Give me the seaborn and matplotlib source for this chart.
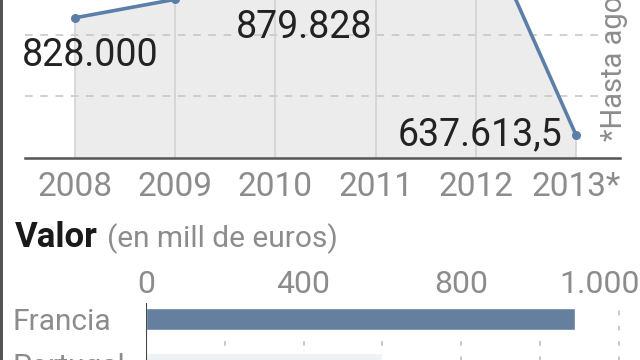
import matplotlib
matplotlib.use("Agg")
import matplotlib.pyplot as plt
import matplotlib.transforms as mtransforms
import seaborn as sns
import numpy as np
import pandas as pd

# data
years = ["2008", "2009", "2010", "2011", "2012", "2013*"]
volumen = [828000, 858000, 879828, 940000, 1004000, 637613.5]
labeled = ["2008", "2010", "2013*"]

paises = ["Francia", "Portugal"]
valor = [1090, 600]
valor_ticks = [0, 400, 800, 1000]

BLUE = "#5b7fa8"
GRAY_TXT = "#8c8c8c"


def es_num(v):
    # 828000 -> 828.000 , 637613.5 -> 637.613,5
    entero = int(v)
    s = f"{entero:,}".replace(",", ".")
    if v != entero:
        s += "," + str(v).split(".")[1]
    return s


sns.set_theme(style="white")
plt.rcParams["font.family"] = ["Liberation Sans Narrow", "DejaVu Sans Condensed",
                               "Roboto", "DejaVu Sans"]

fig = plt.figure(figsize=(6.4, 3.6), dpi=100)
W, H = 640, 360

# ---- top panel: line ----
ax1 = fig.add_axes([25 / W, 1 - 158 / H, (620 - 25) / W, 158 / H])
x = np.arange(len(years))
y0 = 600000
ax1.fill_between(x, volumen, y0, color="#ececec", lw=0, zorder=0)
ax1.vlines(x, y0, volumen, color="#d2d2d2", lw=1.2, zorder=1)
df = pd.DataFrame({"x": x, "v": volumen})
sns.lineplot(data=df, x="x", y="v", color=BLUE, lw=2.6, marker="o",
             markersize=6.5, markeredgewidth=0, ax=ax1, zorder=3)
ax1.set_xlim(-0.5, 5.44)
ax1.set_ylim(y0, y0 + 158 * 1626)
ax1.set_yticks([700000, 800000])
ax1.set_yticklabels([])
ax1.grid(axis="y", color="#c4c4c4", ls=(0, (5, 5)), lw=1.1, zorder=2)
ax1.set_xticks(x)
ax1.set_xticklabels(years, fontsize=24, color=GRAY_TXT)
ax1.tick_params(axis="x", length=0, pad=9)
ax1.tick_params(axis="y", length=0)
ax1.set_xlabel("")
ax1.set_ylabel("")
for s in ["top", "left", "right"]:
    ax1.spines[s].set_visible(False)
ax1.spines["bottom"].set_color("#555555")
ax1.spines["bottom"].set_linewidth(1.8)

offsets = {"2008": (-53, -38, "left"), "2010": (-40, -42, "left"),
           "2013*": (-14, 0, "right")}
for i, yr in enumerate(years):
    if yr in labeled:
        dx, dy, ha = offsets[yr]
        ax1.annotate(es_num(volumen[i]), xy=(i, volumen[i]), xytext=(dx, dy),
                     textcoords="offset pixels", ha=ha, va="center",
                     fontsize=27, color="#222222", annotation_clip=False)

fig.text(614 / W, 1 - 141 / H, "*Hasta agosto", rotation=90, ha="center",
         va="bottom", fontsize=21, color=GRAY_TXT)

# ---- bottom panel: bars ----
fig.text(15 / W, 1 - 247 / H, "Valor", fontsize=25, fontweight="bold",
         color="#1a1a1a", va="baseline")
fig.text(107 / W, 1 - 247 / H, "(en mill de euros)", fontsize=21.5,
         color=GRAY_TXT, va="baseline")

# panel runs past the bottom edge, as in the cropped original
ax2 = fig.add_axes([146 / W, -40 / H, (W - 146) / W, (H - 303 + 40) / H])
sns.barplot(x=valor, y=paises, orient="h", hue=paises,
            palette=[BLUE, "#edf1f6"], width=0.49, legend=False, ax=ax2,
            zorder=3)
ax2.set_xlim(0, (W - 146) / 0.39375)
ax2.set_ylim((400 - 319) / 45, -(319 - 303) / 45)
ax2.xaxis.tick_top()
ax2.set_xticks(valor_ticks)
ax2.set_xticklabels(["0", "400", "800", "1.000"], fontsize=23, color=GRAY_TXT)
ax2.set_xticks(np.arange(200, 1201, 200), minor=True)
ax2.grid(axis="x", which="both", color="#b8b8b8", ls=(0, (3, 7)), lw=1.1,
         zorder=1)
ax2.tick_params(axis="x", which="both", length=0, pad=3)
ax2.tick_params(axis="y", length=0, pad=96)
for lab in ax2.get_yticklabels():
    lab.set_ha("left")
    lab.set_fontsize(21.5)
    lab.set_color(GRAY_TXT)
shift = mtransforms.ScaledTranslation(0.6, 0, fig.dpi_scale_trans)
for lab in ax2.get_xticklabels():
    if lab.get_text() == "1.000":
        lab.set_transform(lab.get_transform() + shift)
ax2.axvline(0, color="#444444", lw=1.5, zorder=4)
for s in ax2.spines.values():
    s.set_visible(False)
ax2.set_xlabel("")
ax2.set_ylabel("")

# frame edge on the left
fig.add_artist(plt.Rectangle((0, 0), 3 / W, 1, transform=fig.transFigure,
                             color="#555555", lw=0))

fig.savefig("out.png", dpi=100)
